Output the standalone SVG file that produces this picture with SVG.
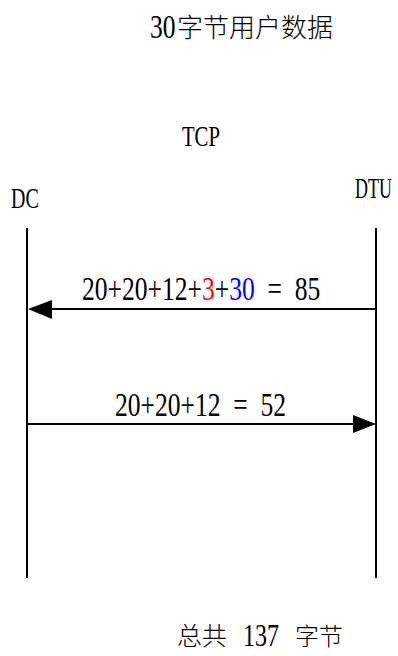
<svg xmlns="http://www.w3.org/2000/svg" width="398" height="656" viewBox="0 0 398 656">
<style>
.t{font-family:"Liberation Serif","Noto Sans CJK SC",serif;fill:#000;white-space:pre;}
.c{font-family:"Noto Sans CJK SC",sans-serif;font-weight:300;fill:#000;}
.ln{stroke:#000;stroke-width:2;fill:none;}
</style>
<rect width="398" height="656" fill="#fff"/>
<g id="title">
<text class="t" x="193.5" y="38" font-size="33" transform="scale(0.775,1)">30</text>
<text class="c" x="177" y="37" font-size="26">字节用户数据</text>
</g>
<g id="tcp"><text class="t" x="254.5" y="146" font-size="29" transform="scale(0.715,1)">TCP</text></g>
<g id="dc">
<text class="t" x="15.9" y="208" font-size="29" transform="scale(0.69,1)">DC</text>
<line class="ln" x1="27" y1="228" x2="27" y2="578"/>
</g>
<g id="dtu">
<text class="t" x="572.6" y="198" font-size="29" transform="scale(0.62,1)">DTU</text>
<line class="ln" x1="376" y1="228" x2="376" y2="578"/>
</g>
<g id="connectors">
<line class="ln" x1="376" y1="309" x2="50" y2="309"/>
<polygon points="28,309 52,300 52,319" fill="#000"/>
<text class="t" x="105.8" y="300" font-size="33" transform="scale(0.775,1)" xml:space="preserve">20+20+12+<tspan style="fill:#f00">3</tspan>+<tspan style="fill:#00f">30</tspan>  =  85</text>
<line class="ln" x1="27" y1="424" x2="355" y2="424"/>
<polygon points="376,424 353,415 353,433" fill="#000"/>
<text class="t" x="148.4" y="416" font-size="33" transform="scale(0.775,1)" xml:space="preserve">20+20+12  =  52</text>
</g>
<g id="total">
<text class="c" x="177" y="645" font-size="25">总共</text>
<text class="t" x="313.5" y="646" font-size="31" transform="scale(0.775,1)">137</text>
<text class="c" x="295" y="645" font-size="24">字节</text>
</g>
</svg>
